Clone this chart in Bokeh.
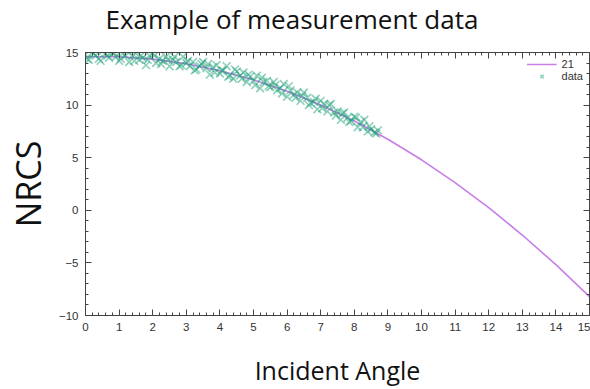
from bokeh.plotting import figure
from bokeh.layouts import column
from bokeh.models import (LinearAxis, SingleIntervalTicker, Range1d, Legend,
                          LegendItem, ColumnDataSource, CustomJSTickFormatter)
from bokeh.embed import file_html
from bokeh.resources import INLINE

title_text = "Example of measurement data"
x_label = "Incident Angle"
y_label = "NRCS"
fit_label = "21"
data_label = "data"

# fitted curve "21"
fit_x = [0, 1, 2, 3, 4, 5, 6, 7, 8, 9, 10, 11, 12, 13, 14, 15]
fit_y = [14.6, 14.59, 14.37, 13.93, 13.27, 12.4, 11.31, 10.01, 8.49, 6.75,
         4.8, 2.63, 0.25, -2.35, -5.17, -8.2]

# measurement data
data_x_a = [0.0, 0.1, 0.2, 0.3, 0.4, 0.5, 0.6, 0.7, 0.8, 0.9,
            1.0, 1.1, 1.2, 1.3, 1.4, 1.5, 1.6, 1.7, 1.8, 1.9,
            2.0, 2.1, 2.2, 2.3, 2.4, 2.5, 2.6, 2.7, 2.8, 2.9,
            3.0, 3.1, 3.2, 3.3, 3.4, 3.5, 3.6, 3.7, 3.8, 3.9,
            4.0, 4.1, 4.2, 4.3, 4.4, 4.5, 4.6, 4.7, 4.8, 4.9,
            5.0, 5.1, 5.2, 5.3, 5.4, 5.5, 5.6, 5.7, 5.8, 5.9,
            6.0, 6.1, 6.2, 6.3, 6.4, 6.5, 6.6, 6.7, 6.8, 6.9,
            7.0, 7.1, 7.2, 7.3, 7.4, 7.5, 7.6, 7.7, 7.8, 7.9,
            8.0, 8.1, 8.2, 8.3, 8.4, 8.5, 8.6, 8.7]
data_y_a = [14.8, 14.3, 15.0, 14.7, 14.4, 15.1, 14.9, 14.5, 15.0, 14.6,
            14.2, 14.9, 14.7, 14.1, 14.7, 14.9, 14.3, 14.5, 13.8, 14.7,
            14.9, 14.0, 14.4, 14.2, 14.6, 13.7, 14.3, 14.1, 13.7, 14.6,
            14.0, 13.7, 14.1, 13.4, 13.7, 14.1, 13.5, 12.9, 13.6, 13.8,
            13.0, 13.3, 13.7, 12.8, 12.5, 13.2, 12.8, 13.1, 12.2, 12.7,
            12.3, 12.8, 11.6, 12.2, 12.3, 11.7, 12.2, 11.4, 11.6, 12.0,
            10.8, 11.4, 11.0, 11.2, 10.4, 11.2, 10.7, 10.2, 10.3, 9.6,
            10.4, 10.1, 9.4, 10.1, 9.3, 9.4, 8.6, 9.3, 8.8, 8.5,
            8.9, 7.9, 8.4, 8.6, 7.5, 7.7, 7.4, 7.6]
data_x_b = [0.05, 0.25, 0.45, 0.65, 0.85, 1.05, 1.25, 1.45, 1.65, 1.85,
            2.05, 2.25, 2.45, 2.65, 2.85, 3.05, 3.25, 3.45, 3.65, 3.85,
            4.05, 4.25, 4.45, 4.65, 4.85, 5.05, 5.25, 5.45, 5.65, 5.85,
            6.05, 6.25, 6.45, 6.65, 6.85, 7.05, 7.25, 7.45, 7.65, 7.85,
            8.05, 8.25, 8.45, 8.65]
data_y_b = [14.4, 14.9, 14.2, 14.7, 15.0, 14.4, 15.1, 14.2, 14.7, 14.3,
            14.7, 13.9, 14.3, 14.6, 13.8, 14.2, 13.3, 13.9, 13.9, 13.1,
            13.3, 12.7, 13.4, 12.5, 12.9, 11.9, 12.6, 11.8, 11.9, 11.1,
            11.8, 10.7, 10.9, 10.0, 10.6, 9.7, 10.0, 9.0, 9.2, 8.4,
            8.8, 7.9, 8.0, 7.3]

data_x = data_x_a + data_x_b
data_y = data_y_a + data_y_b

x_min, x_max = 0, 15
y_min, y_max = -10, 15

AX = "#444444"
TICK_FONT = "Liberation Sans"
LABEL_FONT = "Open Sans"

# --- title strip ---
t = figure(width=590, height=40, output_backend="svg", toolbar_location=None,
           x_range=Range1d(0, 1), y_range=Range1d(0, 1),
           min_border=0, x_axis_location=None, y_axis_location=None)
t.grid.visible = False
t.outline_line_color = None
t.background_fill_color = "white"
t.border_fill_color = "white"
t.title.text = title_text
t.title.align = "left"
t.title.offset = 20
t.title.vertical_align = "top"
t.title.text_font = LABEL_FONT
t.title.text_font_size = "26px"
t.title.text_font_style = "normal"
t.title.text_color = "#111111"
t.title.standoff = 0

# --- main plot ---
p = figure(width=590, height=349, output_backend="svg", toolbar_location=None,
           x_range=Range1d(x_min, x_max), y_range=Range1d(y_min, y_max),
           min_border_left=85, min_border_right=1, min_border_top=12,
           min_border_bottom=72, x_axis_location=None, y_axis_location=None)
p.grid.visible = False
p.outline_line_color = AX
p.outline_line_width = 1
p.background_fill_color = "white"
p.border_fill_color = "white"

blank = CustomJSTickFormatter(code="return ''")

def make_axis(interval, minor, show_labels, label=None, label_size="25px"):
    ax = LinearAxis(ticker=SingleIntervalTicker(interval=interval, num_minor_ticks=minor))
    ax.axis_line_color = AX
    ax.major_tick_line_color = AX
    ax.minor_tick_line_color = AX
    ax.major_tick_in = 6
    ax.major_tick_out = 0
    ax.minor_tick_in = 3
    ax.minor_tick_out = 0
    ax.major_label_text_font = TICK_FONT
    ax.major_label_text_font_size = "11.5px"
    ax.major_label_text_color = "#333333"
    ax.major_label_standoff = 7
    if not show_labels:
        ax.formatter = blank
        ax.major_label_standoff = 0
    if label:
        ax.axis_label = label
        ax.axis_label_text_font = LABEL_FONT
        ax.axis_label_text_font_size = label_size
        ax.axis_label_text_font_style = "normal"
        ax.axis_label_text_color = "#111111"
    return ax

xb = make_axis(1, 5, True, x_label, "25px")
xb.axis_label_standoff = 19
p.add_layout(xb, "below")
yl = make_axis(5, 5, True, y_label, "34px")
yl.axis_label_standoff = 5
p.add_layout(yl, "left")
p.add_layout(make_axis(1, 5, False), "above")
p.add_layout(make_axis(5, 5, False), "right")

fit_src = ColumnDataSource(dict(x=fit_x, y=fit_y))
data_src = ColumnDataSource(dict(x=data_x, y=data_y))

r_fit = p.line("x", "y", source=fit_src, line_color="#c77ee8", line_width=1.6)
r_data = p.scatter("x", "y", source=data_src, marker="x", size=11,
                   line_color="#1c9f78", line_alpha=0.5, line_width=1.6)

legend = Legend(items=[LegendItem(label=fit_label, renderers=[r_fit]),
                       LegendItem(label=data_label, renderers=[r_data])],
                location="top_right", background_fill_alpha=0,
                border_line_color=None, label_text_font=TICK_FONT,
                label_text_font_size="11px", label_text_color="#333333",
                glyph_width=30, glyph_height=12, spacing=0, padding=4,
                label_height=12, margin=6)
p.add_layout(legend)

layout = column(t, p, spacing=0)
open("out.html", "w").write(file_html(layout, INLINE))
